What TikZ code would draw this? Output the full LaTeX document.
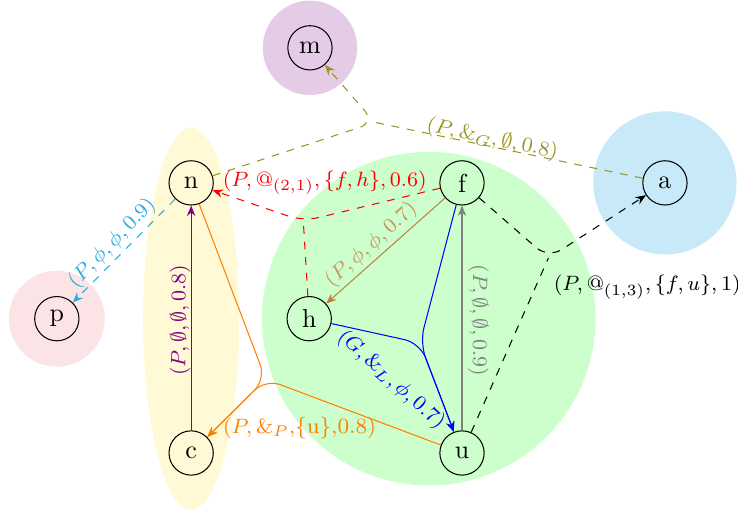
\documentclass[tikz,border=0pt]{standalone}
\usepackage{amsmath,amssymb}
\usepackage{xcolor}
\usepackage{tikz}
\usetikzlibrary{arrows.meta}
\definecolor{skyfill}{HTML}{C7E9F8}
\definecolor{rosefill}{HTML}{FCE4E6}
\definecolor{creamfill}{HTML}{FFF9D6}
\definecolor{mintfill}{HTML}{CCFFCC}
\definecolor{lilacfill}{HTML}{E5CCE6}
\definecolor{skyline}{HTML}{29ABE2}
\definecolor{oliveline}{HTML}{9A9420}
\definecolor{tan}{HTML}{BF8040}

\begin{document}
\begin{tikzpicture}[>={Stealth[length=4pt,width=3.2pt]},
  vtx/.style={draw,circle,minimum size=0.6cm,inner sep=0pt},
  lbl/.style={font=\fontsize{8.4pt}{10pt}\selectfont,inner sep=1pt},
  hub/.style={rounded corners=6pt}]
\useasboundingbox (0,0) rectangle (10,6.938);
% hyperedge regions
\fill[lilacfill] (4.20,6.29) circle (0.64);
\fill[skyfill] (9.01,4.46) circle (0.97);
\fill[rosefill] (0.77,2.62) circle (0.65);
\fill[creamfill] (2.59,2.62) ellipse (0.65 and 2.59);
\fill[mintfill] (5.81,2.62) circle (2.26);
% vertices
\node[vtx] (m) at (4.20,6.29) {m};
\node[vtx] (n) at (2.59,4.46) {n};
\node[vtx] (f) at (6.26,4.46) {f};
\node[vtx] (a) at (9.01,4.46) {a};
\node[vtx] (h) at (4.19,2.62) {h};
\node[vtx] (p) at (0.77,2.62) {p};
\node[vtx] (c) at (2.59,0.80) {c};
\node[vtx] (u) at (6.26,0.80) {u};
% junctions
\coordinate (jm) at (5.08,5.28);
\coordinate (jr) at (4.11,3.94);
\coordinate (jk) at (7.43,3.44);
\coordinate (jb) at (5.69,2.29);
\coordinate (jo) at (3.60,1.80);
% edges
\draw[oliveline,dashed,->,hub] (n) -- (jm) -- (m);
\draw[oliveline,dashed,hub] (a) -- (jm);
\draw[red,dashed,->,hub] (f) -- (jr) -- (n);
\draw[red,dashed,hub] (h) -- (jr);
\draw[dashed,->,hub] (f) -- (jk) -- (a);
\draw[dashed,hub] (u) -- (jk);
\draw[blue,->,hub] (h) -- (jb) -- (u);
\draw[blue,->,hub] (f) -- (jb) -- (u);
\draw[orange,->,hub] (n) -- (jo) -- (c);
\draw[orange,->,hub] (u) -- (jo) -- (c);
\draw[gray,->] (u) -- (f);
\draw[violet,->] (c) -- (n);
\draw[tan,->] (f) -- (h);
\draw[skyline,dashed,->] (n) -- (p);
% labels
\node[lbl,oliveline,rotate=-12] (lolive) at (6.67,5.05) {$(P, \&_G, \emptyset, 0.8)$};
\node[lbl,red] (lred) at (4.40,4.46) {$(P, @_{(2,1)}, \{f, h\}, 0.6)$};
\node[lbl] (lblack) at (8.77,3.05) {$(P, @_{(1,3)}, \{f, u\}, 1)$};
\node[lbl,gray,rotate=-90] (lgray) at (6.48,2.60) {$(P, \emptyset, \emptyset, 0.9)$};
\node[lbl,violet,rotate=90] (lviolet) at (2.44,2.60) {$(P, \emptyset, \emptyset, 0.8)$};
\node[lbl,tan!85,rotate=42] (ltan) at (5.03,3.62) {$(P, \phi, \phi, 0.7)$};
\node[lbl,skyline,rotate=46] (lsky) at (1.52,3.64) {$(P, \phi, \phi, 0.9)$};
\node[lbl,blue,rotate=-42] (lblue) at (5.30,1.79) {$(G, \&_L, \phi, 0.7)$};
\node[lbl,orange] (lorange) at (4.06,1.14) {$(P, \&_P, $\{u\},0.8)};
\end{tikzpicture}
\end{document}
